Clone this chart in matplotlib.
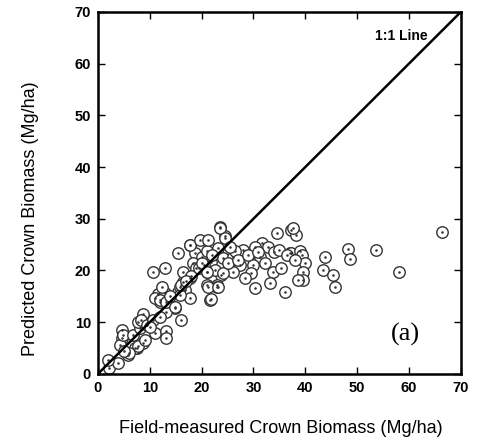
import matplotlib
matplotlib.use("Agg")
import matplotlib.pyplot as plt

# Field-measured vs. predicted crown biomass (Mg/ha)
field = [2.2, 3.9, 2.0, 5.8, 7.5, 8.7, 4.6, 4.2, 4.6, 4.9, 6.8, 8.1, 7.8, 8.7, 8.4,
         9.4, 10.7, 11.0, 13.2, 13.2, 16.1, 14.8, 13.2, 12.0, 11.6, 12.9, 7.1, 7.8,
         6.0, 5.0, 9.0, 10.0, 12.0,
         10.7, 12.9, 12.3, 11.0, 12.0, 13.2, 14.8, 15.5, 16.8, 15.5, 15.8, 16.4,
         17.7, 15.8, 17.7, 18.7, 20.0, 21.0, 23.2, 21.9, 24.2, 18.4, 16.4, 17.7,
         21.0, 23.8, 21.0, 22.9, 16.1, 17.7, 21.6, 19.7, 21.3, 23.5, 24.5, 19.0,
         20.5, 22.5, 18.0, 19.5, 17.0, 20.0, 22.0, 14.0,
         23.5, 24.5, 34.5, 37.3, 38.3, 28.0, 31.6, 32.8, 30.3, 31.2, 32.2, 29.9,
         27.4, 26.1, 24.2, 29.6, 33.8, 35.4, 37.0, 28.3, 33.2, 30.3, 22.9, 36.1,
         26.1, 26.4, 21.8, 21.3, 23.2, 21.0, 25.0, 27.0, 29.0, 34.0, 35.0,
         37.7, 37.3, 39.0, 39.3, 39.9, 39.6, 39.6, 38.6, 43.8, 43.4, 45.4, 45.7,
         48.3, 48.6, 53.7, 58.1, 66.3, 36.5, 38.0, 25.5, 30.8]
predicted = [1.1, 2.1, 2.7, 3.7, 5.0, 5.9, 6.9, 5.6, 8.5, 7.5, 7.5, 8.8, 10.1, 11.6, 10.4,
             9.5, 10.4, 7.9, 8.2, 6.9, 10.4, 12.7, 12.0, 14.0, 15.5, 15.7, 5.0, 5.3,
             4.0, 4.5, 6.5, 9.0, 11.0,
             19.8, 20.4, 16.9, 14.6, 14.3, 14.0, 13.0, 15.9, 16.2, 23.3, 16.9, 17.8,
             14.6, 15.3, 24.9, 23.3, 22.7, 23.7, 24.3, 21.7, 22.4, 21.4, 19.8, 18.5,
             19.8, 19.1, 17.2, 17.2, 17.2, 24.9, 14.3, 25.9, 25.9, 28.4, 26.6, 20.5,
             21.0, 20.0, 19.0, 20.5, 18.0, 21.5, 23.0, 15.0,
             28.2, 26.2, 27.3, 27.8, 26.9, 24.0, 25.3, 24.6, 24.6, 22.7, 21.4, 21.1,
             21.1, 19.8, 19.5, 19.5, 19.8, 20.4, 23.3, 18.5, 17.5, 16.6, 16.9, 15.9,
             22.7, 23.7, 14.4, 16.9, 16.9, 19.8, 21.5, 22.0, 23.0, 23.5, 24.0,
             28.2, 23.3, 23.7, 23.0, 21.4, 19.8, 18.2, 18.2, 22.7, 20.1, 19.1, 16.9,
             24.1, 22.2, 24.0, 19.8, 27.5, 23.0, 22.0, 24.5, 23.5]

x_ticks = [0, 10, 20, 30, 40, 50, 60, 70]
y_ticks = [0, 10, 20, 30, 40, 50, 60, 70]
one_to_one = [0, 70]

fig = plt.figure(figsize=(4.8, 4.43), dpi=100)
ax = fig.add_axes([0.204, 0.156, 0.756, 0.817])

ax.scatter(field, predicted, s=68, facecolors="white", edgecolors="#333333",
           linewidths=1.0, zorder=2)
ax.scatter(field, predicted, s=0.7, color="#333333", zorder=3)
ax.plot(one_to_one, one_to_one, color="black", lw=1.8, zorder=4)

ax.set_xlim(0, 70)
ax.set_ylim(0, 70)
ax.set_xticks(x_ticks)
ax.set_yticks(y_ticks)
bold = {"family": "Liberation Sans", "weight": "bold", "size": 10.5}
ax.set_xticklabels([str(t) for t in x_ticks], fontdict=bold)
ax.set_yticklabels([str(t) for t in y_ticks], fontdict=bold)
ax.tick_params(direction="in", length=5, width=1, top=True, right=True, pad=5,
               colors="black")
for sp in ax.spines.values():
    sp.set_linewidth(1.8)

ax.set_xlabel("Field-measured Crown Biomass (Mg/ha)", family="Liberation Sans",
              size=13)
ax.set_ylabel("Predicted Crown Biomass (Mg/ha)", family="Liberation Sans",
              size=13)
ax.xaxis.set_label_coords(0.504, -0.128)
ax.yaxis.set_label_coords(-0.162, 0.43)

ax.text(63.6, 65.4, "1:1 Line", ha="right", va="center", family="Liberation Sans",
        weight="bold", size=10)
ax.text(59.4, 7.6, "(a)", ha="center", va="center", family="Liberation Serif",
        size=19)

fig.savefig("out.png", dpi=100)
